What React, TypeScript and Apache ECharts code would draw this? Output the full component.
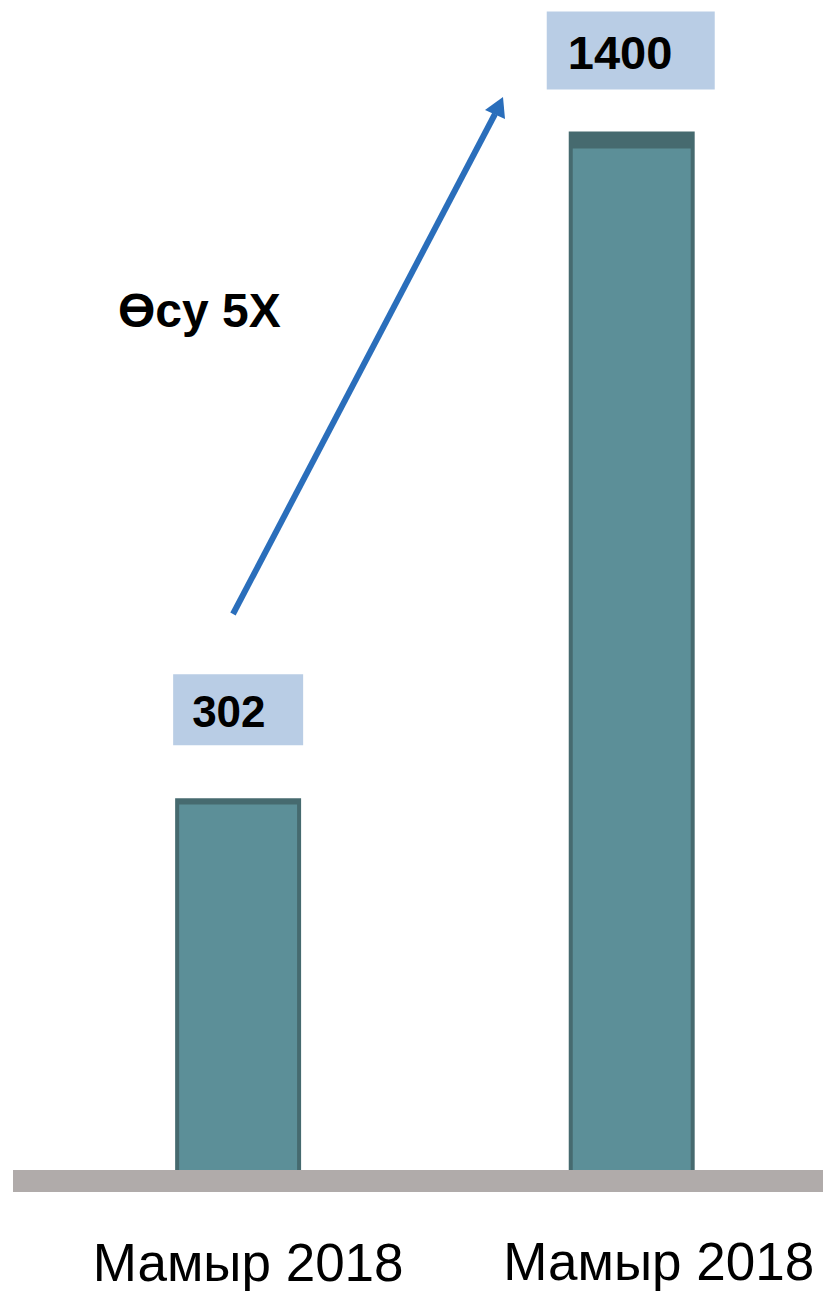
import React, { useEffect, useRef } from "react";
import * as echarts from "echarts";

// ---- data ----
const categories: string[] = ["Мамыр 2018", "Мамыр 2018"];
const values: number[] = [302, 1400];
const growthLabel = "Өсу 5X";
// hidden axis ranges (the picture's bars stand on a floor below zero)
const Y_MIN = -310;
const Y_MAX = 1600;
const X_MIN = -0.605;
const X_MAX = 1.486;

// ---- styles ----
const BAR_FILL = "#5c8f98";
const BAR_EDGE = "#466a6f";
const BOX_FILL = "#b9cde5";
const BASE_GRAY = "#b0abaa";
const ARROW_BLUE = "#2a6ebb";
const BAR_WIDTH = 0.32; // in category units
const labelBoxes = [
  { dx: -2, gap: 53, w: 130, h: 71, padL: 19, fontSize: 44 },
  { dx: -22, gap: 42, w: 168, h: 78, padL: 21, fontSize: 47 },
];
const catLabelShift = [10, 27];
const catLabelDy = [92, 91];
const CAT_FONT = 53;
const CAT_SCALE_X = 1.0;

export default function App() {
  const ref = useRef<HTMLDivElement>(null);
  useEffect(() => {
    if (!ref.current) return;
    const chart = echarts.init(ref.current, null, { renderer: "svg" });
    chart.setOption({
      animation: false,
      backgroundColor: "#ffffff",
      grid: { left: 0, right: 0, top: 10, bottom: 121 },
      xAxis: { type: "value", min: X_MIN, max: X_MAX, show: false, splitLine: { show: false } },
      yAxis: { type: "value", min: Y_MIN, max: Y_MAX, show: false, splitLine: { show: false } },
      series: [
        {
          type: "custom",
          clip: false,
          data: values.map((v, i) => [i, v]),
          renderItem: (params: any, api: any) => {
            const idx = api.value(0);
            const v = api.value(1);
            const i = params.dataIndex;
            const top = api.coord([idx, v]);
            const bottom = api.coord([idx, Y_MIN]);
            const w = api.size([BAR_WIDTH, 0])[0];
            const x0 = top[0] - w / 2;
            const h = bottom[1] - top[1];
            const topEdge = h * 0.0165;
            const lb = labelBoxes[i];
            const boxX = x0 + lb.dx;
            const boxY = top[1] - lb.gap - lb.h;
            return {
              type: "group",
              children: [
                {
                  type: "rect",
                  shape: { x: x0, y: top[1], width: w, height: h },
                  style: { fill: BAR_EDGE },
                },
                {
                  type: "rect",
                  shape: { x: x0 + 4, y: top[1] + topEdge, width: w - 8, height: h - topEdge },
                  style: { fill: BAR_FILL },
                },
                {
                  type: "rect",
                  shape: { x: boxX, y: boxY, width: lb.w, height: lb.h },
                  style: { fill: BOX_FILL },
                },
                {
                  type: "text",
                  x: boxX + lb.padL,
                  y: boxY + lb.h / 2 + 2,
                  style: {
                    text: String(v),
                    fill: "#000",
                    fontSize: lb.fontSize,
                    fontWeight: "bold",
                    fontFamily: "'Liberation Sans', Arial, sans-serif",
                    align: "left",
                    verticalAlign: "middle",
                  },
                },
                {
                  type: "text",
                  x: top[0] + catLabelShift[i],
                  y: bottom[1] + catLabelDy[i],
                  scaleX: CAT_SCALE_X,
                  style: {
                    text: categories[i],
                    fill: "#000",
                    fontSize: CAT_FONT,
                    fontFamily: "'Liberation Sans', Arial, sans-serif",
                    align: "center",
                    verticalAlign: "middle",
                  },
                },
              ],
            };
          },
        },
      ],
      graphic: [
        {
          type: "rect",
          shape: { x: 13, y: 1170, width: 810, height: 22 },
          style: { fill: BASE_GRAY },
        },
        {
          type: "line",
          shape: { x1: 233, y1: 614, x2: 495, y2: 114 },
          style: { stroke: ARROW_BLUE, lineWidth: 6 },
        },
        {
          type: "polygon",
          shape: { points: [[503, 97], [485, 110], [505, 119]] },
          style: { fill: ARROW_BLUE },
        },
        {
          type: "text",
          x: 118,
          y: 310,
          style: {
            text: growthLabel,
            fill: "#000",
            fontSize: 48,
            fontWeight: "bold",
            fontFamily: "'Liberation Sans', Arial, sans-serif",
            align: "left",
            verticalAlign: "middle",
          },
        },
      ],
    });
    return () => chart.dispose();
  }, []);
  return (
    <div
      ref={ref}
      style={{ position: "fixed", left: 0, top: 0, width: 823, height: 1291 }}
    />
  );
}
